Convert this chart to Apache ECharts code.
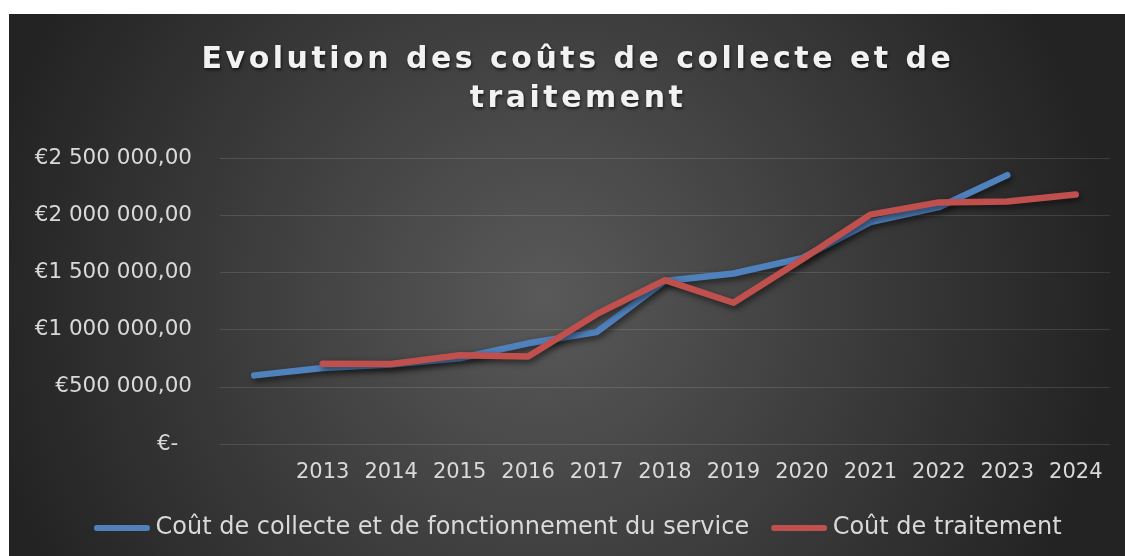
<!DOCTYPE html>
<html>
<head>
<meta charset="utf-8">
<script src="https://cdn.jsdelivr.net/npm/echarts@6/dist/echarts.min.js"></script>
<style>
  html, body { margin: 0; padding: 0; background: #ffffff; }
  #chart { position: absolute; left: 9px; top: 14px; width: 1116px; height: 542px; }
</style>
</head>
<body>
<div id="chart"></div>
<script>
const categories = ['', '2013', '2014', '2015', '2016', '2017', '2018', '2019', '2020', '2021', '2022', '2023', '2024'];
const collecteValues = [600000, 665000, 695000, 750000, 880000, 978000, 1425000, 1490000, 1625000, 1940000, 2070000, 2350000, null];
const traitementValues = [null, 702000, 700000, 775000, 765000, 1135000, 1432000, 1235000, 1612000, 2005000, 2112000, 2120000, 2180000];
const seriesNames = ['Coût de collecte et de fonctionnement du service', 'Coût de traitement'];
const titleText = 'Evolution des coûts de collecte et de\ntraitement';

function fmtEuro(v) {
  if (v === 0) return '€-  ';
  const s = Math.round(v).toString().replace(/\B(?=(\d{3})+(?!\d))/g, ' ');
  return '€' + s + ',00';
}

// letter spacing for the bold title text only
(function () {
  const proto = CanvasRenderingContext2D.prototype;
  if (!('letterSpacing' in proto)) return;
  const origFill = proto.fillText;
  proto.fillText = function (t, x, y, m) {
    const f = this.font || '';
    if (f.indexOf('bold') >= 0 && f.indexOf('30px') >= 0) {
      const prev = this.letterSpacing;
      this.letterSpacing = '3.5px';
      const r = m === undefined ? origFill.call(this, t, x, y) : origFill.call(this, t, x, y, m);
      this.letterSpacing = prev;
      return r;
    }
    return m === undefined ? origFill.call(this, t, x, y) : origFill.call(this, t, x, y, m);
  };
})();

const chart = echarts.init(document.getElementById('chart'));
const pill = 'path://M3,0 L53,0 A3,3 0 0 1 53,6 L3,6 A3,3 0 0 1 3,0 Z';
chart.setOption({
  backgroundColor: {
    type: 'radial', x: 0.48, y: 0.52, r: 1.05,
    colorStops: [{ offset: 0, color: '#595959' }, { offset: 1, color: '#232323' }]
  },
  title: {
    text: titleText,
    left: 564,
    textAlign: 'center',
    top: 22,
    textStyle: {
      fontFamily: 'DejaVu Sans', fontWeight: 'bold', fontSize: 30, lineHeight: 39,
      color: '#f2f2f2',
      textShadowColor: 'rgba(0,0,0,0.6)', textShadowBlur: 3, textShadowOffsetX: 1, textShadowOffsetY: 2
    }
  },
  grid: { left: 211, right: 15, top: 144, bottom: 112, containLabel: false },
  legend: {
    top: 497, left: 80,
    itemWidth: 57, itemHeight: 6, itemGap: 22,
    icon: pill,
    textStyle: { fontFamily: 'DejaVu Sans', fontSize: 24, color: '#d9d9d9' },
    data: seriesNames
  },
  xAxis: {
    type: 'category', data: categories, boundaryGap: true,
    axisLine: { show: false }, axisTick: { show: false },
    axisLabel: { interval: 0, margin: 18, fontFamily: 'DejaVu Sans', fontSize: 21, color: '#d9d9d9' }
  },
  yAxis: {
    type: 'value', min: 0, max: 2500000, interval: 500000,
    axisLine: { show: false }, axisTick: { show: false },
    splitLine: { lineStyle: { color: 'rgba(255,255,255,0.12)', width: 1 } },
    axisLabel: { margin: 28, fontFamily: 'DejaVu Sans', fontSize: 21.5, color: '#d9d9d9', formatter: fmtEuro }
  },
  series: [
    {
      name: seriesNames[0], type: 'line', data: collecteValues, showSymbol: false, symbol: 'none',
      color: '#4F81BD',
      lineStyle: { width: 6.5, color: '#4F81BD', cap: 'round', join: 'round',
        shadowColor: 'rgba(0,0,0,0.55)', shadowBlur: 6, shadowOffsetX: 2, shadowOffsetY: 3 }
    },
    {
      name: seriesNames[1], type: 'line', data: traitementValues, showSymbol: false, symbol: 'none',
      color: '#C0504D',
      lineStyle: { width: 6.5, color: '#C0504D', cap: 'round', join: 'round',
        shadowColor: 'rgba(0,0,0,0.55)', shadowBlur: 6, shadowOffsetX: 2, shadowOffsetY: 3 }
    }
  ],
  animation: false
});
</script>
</body>
</html>
